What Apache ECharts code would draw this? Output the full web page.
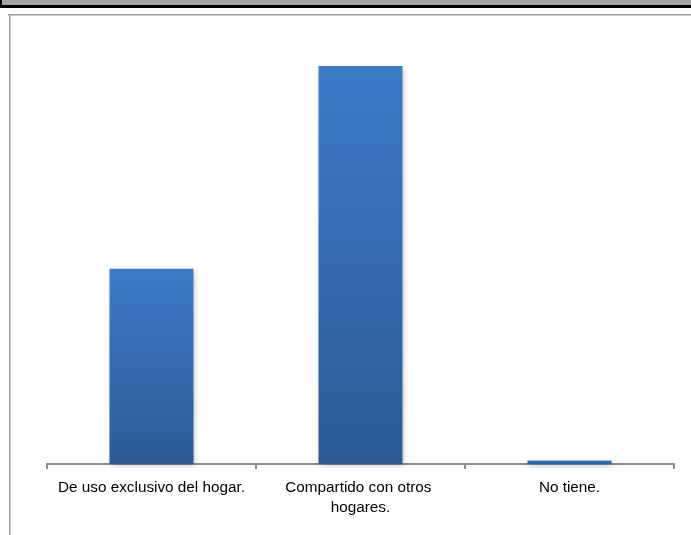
<!DOCTYPE html>
<html>
<head>
<meta charset="utf-8">
<script src="https://cdn.jsdelivr.net/npm/echarts@6/dist/echarts.min.js"></script>
<style>
html,body{margin:0;padding:0;background:#fff;}
#wrap{position:relative;width:691px;height:535px;overflow:hidden;background:#fff;}
#chart{position:absolute;left:0;top:0;width:691px;height:535px;}
.d{position:absolute;}
</style>
</head>
<body>
<div id="wrap">
  <div class="d" style="left:0;top:0;width:691px;height:5px;background:#a6a6a6;"></div>
  <div class="d" style="left:0;top:5px;width:691px;height:3px;background:#000;"></div>
  <div class="d" style="left:0;top:0;width:2px;height:8px;background:#000;"></div>
  <div class="d" style="left:8px;top:14px;width:683px;height:1px;background:#a0a0a0;"></div>
  <div class="d" style="left:8px;top:15px;width:683px;height:1px;background:#c8c8c8;"></div>
  <div class="d" style="left:9px;top:14px;width:1px;height:521px;background:#a0a0a0;"></div>
  <div class="d" style="left:10px;top:15px;width:1px;height:520px;background:#c8c8c8;"></div>
  <div id="chart"></div>
</div>
<script>
var categories = ["De uso exclusivo del hogar.", "Compartido con otros hogares.", "No tiene."];
var values = [32.6, 66.5, 0.6];

var chart = echarts.init(document.getElementById('chart'), null, {renderer: 'canvas'});
chart.setOption({
  animation: false,
  backgroundColor: 'transparent',
  grid: {left: 47, right: 17, top: 45, bottom: 71},
  xAxis: {
    type: 'category',
    data: categories,
    axisLine: {lineStyle: {color: '#8c8c8c', width: 2}},
    axisTick: {show: true, length: 5, lineStyle: {color: '#8c8c8c', width: 2}},
    axisLabel: {
      interval: 0, margin: 14, color: '#000',
      fontFamily: 'Liberation Sans, Arial, sans-serif', fontSize: 15.3,
      lineHeight: 20, width: 196, overflow: 'break'
    }
  },
  yAxis: {
    type: 'value', min: 0, max: 70,
    show: false,
    splitLine: {show: false}
  },
  series: [{
    type: 'bar',
    data: values,
    barWidth: 84,
    itemStyle: {
      color: new echarts.graphic.LinearGradient(0, 0, 0, 1, [
        {offset: 0, color: '#3c7cc9'},
        {offset: 1, color: '#2c5b94'}
      ]),
      shadowColor: 'rgba(0,0,0,0.25)',
      shadowBlur: 5,
      shadowOffsetX: 1,
      shadowOffsetY: 2
    }
  }]
});
</script>
</body>
</html>
